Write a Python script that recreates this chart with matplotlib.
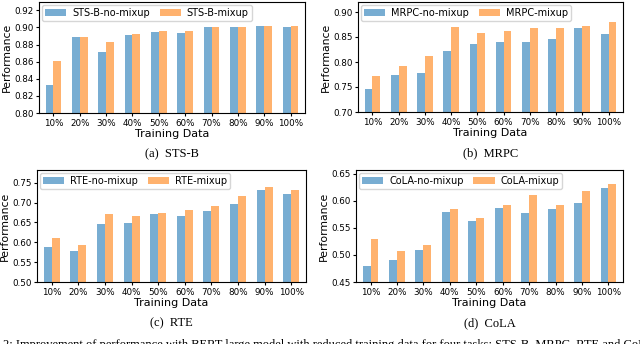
import numpy as np
import matplotlib.pyplot as plt

labels = ['10%', '20%', '30%', '40%', '50%', '60%', '70%', '80%', '90%', '100%']

stsb_no = [0.833, 0.889, 0.871, 0.891, 0.895, 0.893, 0.900, 0.900, 0.902, 0.901]
stsb_mix = [0.861, 0.889, 0.883, 0.892, 0.896, 0.896, 0.901, 0.901, 0.902, 0.902]

mrpc_no = [0.746, 0.774, 0.778, 0.822, 0.837, 0.841, 0.841, 0.847, 0.868, 0.856]
mrpc_mix = [0.772, 0.792, 0.812, 0.871, 0.859, 0.863, 0.868, 0.868, 0.873, 0.880]

rte_no = [0.588, 0.577, 0.646, 0.649, 0.670, 0.667, 0.678, 0.696, 0.732, 0.721]
rte_mix = [0.611, 0.594, 0.670, 0.667, 0.674, 0.682, 0.692, 0.717, 0.739, 0.732]

cola_no = [0.480, 0.491, 0.510, 0.579, 0.562, 0.587, 0.578, 0.585, 0.596, 0.623]
cola_mix = [0.529, 0.508, 0.519, 0.585, 0.568, 0.593, 0.611, 0.593, 0.618, 0.632]

W, H = 640, 344
fig = plt.figure(figsize=(6.4, 3.44), dpi=100)


def panel(px, task, no, mix, ylim, yticks, caption):
    l, r, t, b = px
    ax = fig.add_axes([l / W, (H - b) / H, (r - l) / W, (b - t) / H])
    x = np.arange(len(labels))
    w = 0.3
    ax.bar(x - w / 2, no, w, color='C0', alpha=0.6, label=task + '-no-mixup')
    ax.bar(x + w / 2, mix, w, color='C1', alpha=0.6, label=task + '-mixup')
    ax.set_xticks(x)
    ax.set_xticklabels(labels, fontsize=6.3)
    ax.set_xlim(-0.55, 9.55)
    ax.set_ylim(*ylim)
    ax.set_yticks(yticks)
    ax.set_yticklabels(['{:.2f}'.format(v) for v in yticks], fontsize=6.3)
    ax.tick_params(length=2.5, pad=1.5)
    ax.set_xlabel('Training Data', fontsize=8, labelpad=1)
    ax.set_ylabel('Performance', fontsize=7.8, labelpad=1.5)
    ax.legend(loc='upper left', ncol=2, fontsize=7, handlelength=2.2,
              borderpad=0.3, columnspacing=1.0, handletextpad=0.6,
              borderaxespad=0.3)
    fig.text((l + r) / 2 / W, 1 - (b + 41) / H, caption, ha='center',
             va='center', fontsize=9, family='Liberation Serif')
    return ax


panel((39, 305, 2, 113), 'STS-B', stsb_no, stsb_mix, (0.80, 0.9297),
      np.arange(0.80, 0.921, 0.02), '(a)  STS-B')
panel((358, 623, 2, 112), 'MRPC', mrpc_no, mrpc_mix, (0.70, 0.92),
      np.arange(0.70, 0.901, 0.05), '(b)  MRPC')
panel((37, 306, 170, 282), 'RTE', rte_no, rte_mix, (0.50, 0.782),
      np.arange(0.50, 0.751, 0.05), '(c)  RTE')
panel((356, 623, 170, 282), 'CoLA', cola_no, cola_mix, (0.45, 0.657),
      np.arange(0.45, 0.651, 0.05), '(d)  CoLA')

fig.text(3 / W, 1 - 339 / H,
         '2: Improvement of performance with BERT large model with reduced training data for four tasks: STS-B, MRPC, RTE and CoLA',
         ha='left', va='top', fontsize=9, family='Liberation Serif')

fig.savefig('out.png', dpi=100)
